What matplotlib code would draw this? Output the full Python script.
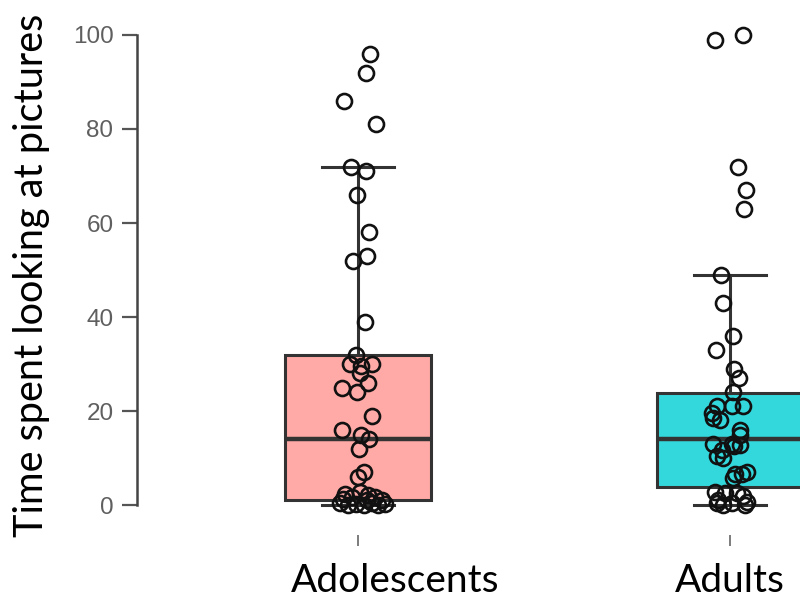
import matplotlib
matplotlib.use("Agg")
import matplotlib.pyplot as plt
from matplotlib.transforms import ScaledTranslation

# groups and time spent (seconds) looking at pictures
groups = ["Adolescents", "Adults"]
box_colors = ["#FFAAA6", "#33D8DC"]

# box summary per group: lower whisker, Q1, median, Q3, upper whisker
whis_lo = [0, 0]
q1 = [1, 3.75]
medians = [14, 14]
q3 = [32, 23.75]
whis_hi = [72, 49]

adolescents = [96, 92, 86, 81, 72, 71, 66, 58, 53, 52, 39, 32, 30, 29.6, 30,
               28, 26, 25, 24, 19, 16, 15, 14, 12, 7, 6,
               2.3, 1.7, 2.8, 2.1, 1.7, 1.1, 0.4, 0, 0.2, 0, 0.4, 0, 1.3, 1.0, 0.2]
adolescents_jitter = [0.032, 0.022, -0.038, 0.048, -0.019, 0.022, -0.003, 0.030,
                      0.024, -0.013, 0.019, -0.005, -0.022, 0.008, 0.038, 0.005,
                      0.027, -0.043, -0.003, 0.038, -0.043, 0.008, 0.030, 0.003,
                      0.016, 0.0, -0.035, -0.016, 0.005, 0.027, 0.046, 0.065,
                      -0.048, -0.027, -0.005, 0.016, 0.038, 0.054, -0.040, 0.024, 0.073]

adults = [100, 99, 72, 67, 63, 49, 43, 36, 33, 29, 27, 24, 21, 21, 21, 19.5, 18.5,
          18, 16, 15, 13, 13, 12.5, 12.8, 11.7, 10.5, 10, 7, 6.7, 6.5, 5.7,
          2.8, 2.5, 2.5, 2, 1, 0.5, 0.7, 0.4, 0, 0]
adults_jitter = [0.035, -0.040, 0.022, 0.043, 0.038, -0.024, -0.019, 0.008, -0.038,
                 0.011, 0.024, 0.008, -0.035, 0.005, 0.035, -0.048, -0.046, -0.027,
                 0.027, 0.027, -0.046, 0.005, 0.011, 0.027, -0.022, -0.035, -0.019,
                 0.046, 0.032, 0.013, 0.008, -0.040, -0.013, 0.019, 0.035, -0.032,
                 0.005, 0.046, -0.035, -0.019, 0.040]

values = [adolescents, adults]
jitters = [adolescents_jitter, adults_jitter]

fig = plt.figure(figsize=(8, 6.02), dpi=100)
ax = fig.add_axes([137 / 800, 67 / 602, 663 / 800, 515 / 602])

stats = [dict(whislo=whis_lo[i], q1=q1[i], med=medians[i], q3=q3[i],
              whishi=whis_hi[i], fliers=[]) for i in range(len(groups))]
edge = "#333333"
bp = ax.bxp(stats, positions=range(len(groups)), widths=0.395, patch_artist=True,
            showfliers=False,
            boxprops=dict(edgecolor=edge, linewidth=2.2),
            medianprops=dict(color=edge, linewidth=3.2),
            whiskerprops=dict(color=edge, linewidth=2.2),
            capprops=dict(color=edge, linewidth=2.2),
            capwidths=0.194)
for patch, c in zip(bp["boxes"], box_colors):
    patch.set_facecolor(c)

for i, (vals, jit) in enumerate(zip(values, jitters)):
    xs = [i + j for j in jit]
    ax.plot(xs, vals, linestyle="none", marker="o", markersize=10.8,
            markerfacecolor="none", markeredgecolor="#111111",
            markeredgewidth=1.9, zorder=5, clip_on=False)

ax.set_xlim(-0.594, 1.188)
ax.set_ylim(-6.38, 103.19)
ax.set_xticks(range(len(groups)))
ax.set_xticklabels(groups, fontsize=28, family="Lato")
ax.set_yticks([0, 20, 40, 60, 80, 100])
ax.tick_params(axis="y", length=11, width=1.6, color="#555555", pad=6,
               labelsize=17.5, labelcolor="#5f5f5f")
ax.tick_params(axis="x", length=8, width=1.2, color="#666666", pad=12)
for lab in ax.get_yticklabels():
    lab.set_family("Liberation Sans")

# the first group label sits a little right of its tick
first = ax.get_xticklabels()[0]
first.set_transform(first.get_transform() +
                    ScaledTranslation(0.37, 0, fig.dpi_scale_trans))

for side in ["top", "right", "bottom"]:
    ax.spines[side].set_visible(False)
ax.spines["left"].set_bounds(0, 100)
ax.spines["left"].set_linewidth(1.8)
ax.spines["left"].set_color("#444444")

fig.text(32 / 800, 1 - 275 / 602, "Time spent looking at pictures", rotation=90,
         ha="center", va="center", fontsize=28.5, family="Lato")

fig.savefig("out.png", dpi=100)
